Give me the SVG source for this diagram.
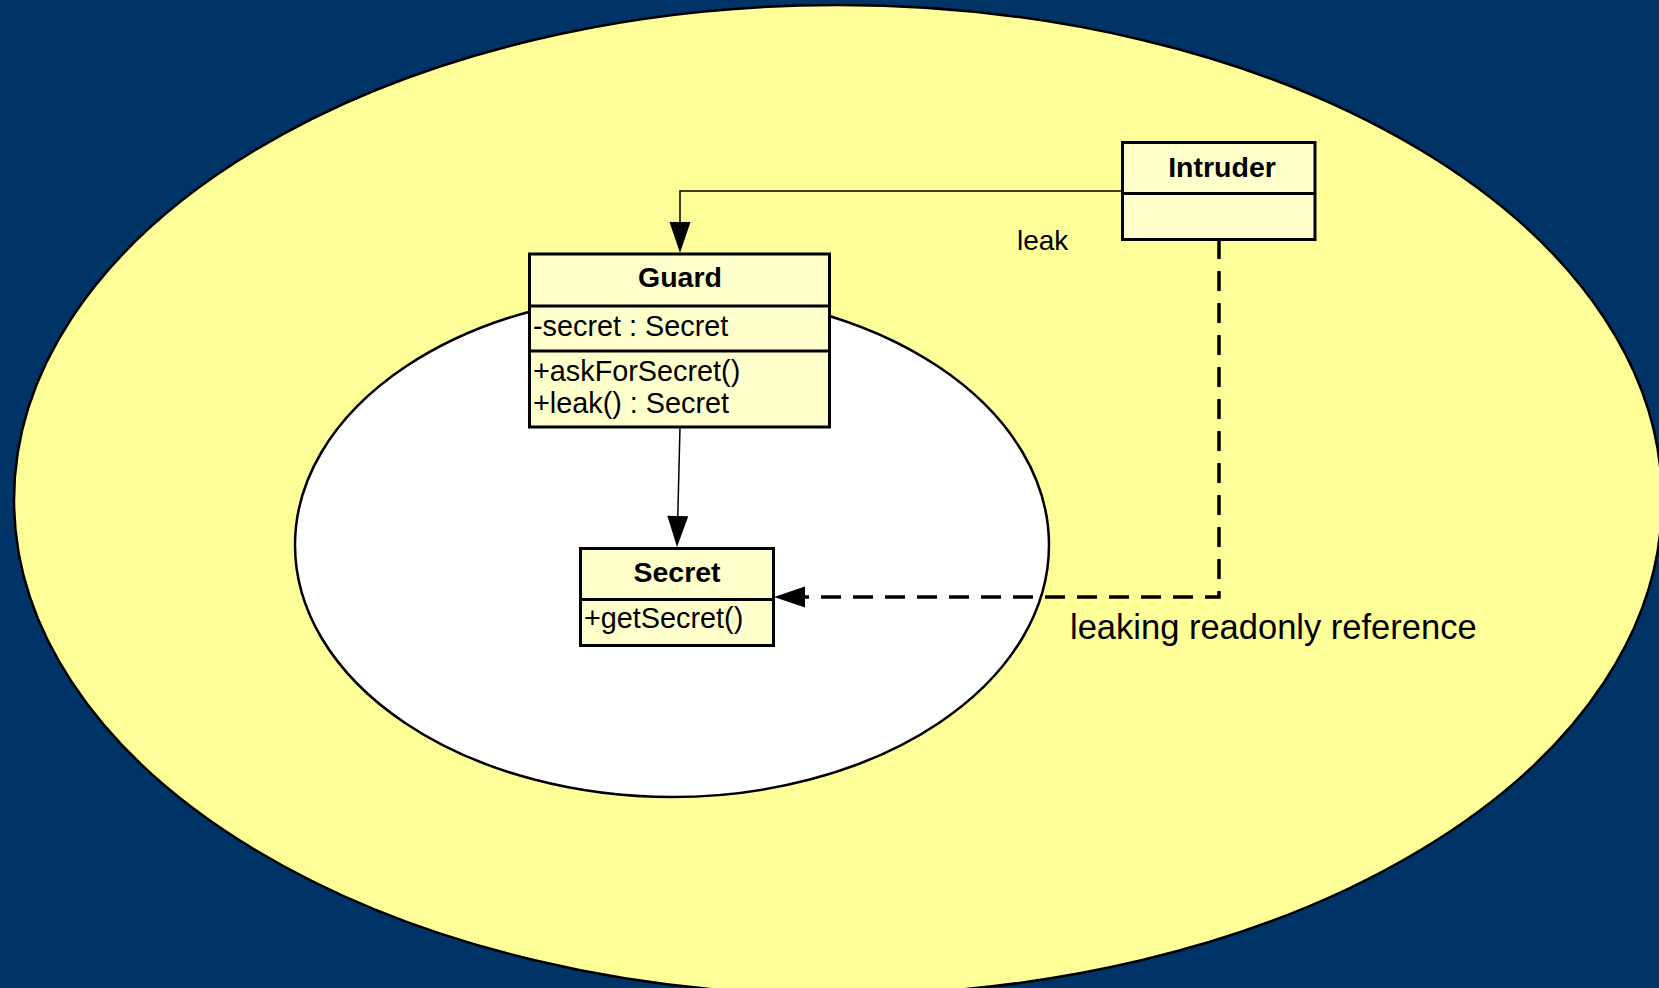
<svg xmlns="http://www.w3.org/2000/svg" width="1659" height="988" viewBox="0 0 1659 988">
  <style>
    .box { fill: #FFFFCC; stroke: #000; stroke-width: 3; }
    .div { stroke: #000; stroke-width: 3; }
    .title { font-family: "Liberation Sans", Arial, sans-serif; font-size: 28.5px; font-weight: bold; text-anchor: middle; fill: #000; }
    .member { font-family: "Liberation Sans", Arial, sans-serif; font-size: 28.8px; fill: #000; }
    .label { font-family: "Liberation Sans", Arial, sans-serif; fill: #000; }
    .assoc { fill: none; stroke: #000; stroke-width: 1.5; }
    .dep { fill: none; stroke: #000; stroke-width: 3.5; stroke-dasharray: 20 12; }
  </style>
  <defs>
    <marker id="arrow" markerUnits="userSpaceOnUse" markerWidth="31" markerHeight="22" refX="0" refY="10.5" orient="auto" overflow="visible">
      <path d="M0,0 L31,10.5 L0,21 Z" fill="#000"/>
    </marker>
  </defs>

  <!-- background -->
  <rect x="0" y="0" width="1659" height="988" fill="#003366"/>

  <!-- outer and inner regions -->
  <ellipse id="outer-region" cx="838" cy="500" rx="824" ry="495" fill="#FFFF99" stroke="#000" stroke-width="2.5"/>
  <ellipse id="inner-region" cx="672" cy="545" rx="377" ry="252" fill="#FFFFFF" stroke="#000" stroke-width="2.5"/>

  <!-- connectors -->
  <g id="connectors">
    <path class="assoc" d="M1122,191 H680 V222" marker-end="url(#arrow)"/>
    <path class="assoc" d="M680,427 L677.8,516" marker-end="url(#arrow)"/>
    <path class="dep" d="M1219,239 V597 H805" marker-end="url(#arrow)"/>
    <text class="label" x="1017" y="250" font-size="28">leak</text>
    <text class="label" x="1070" y="639" font-size="34.5">leaking readonly reference</text>
  </g>

  <!-- Guard class -->
  <g id="guard">
    <rect class="box" x="529.5" y="254" width="300" height="173"/>
    <line class="div" x1="529.5" y1="306" x2="829.5" y2="306"/>
    <line class="div" x1="529.5" y1="351" x2="829.5" y2="351"/>
    <text class="title" x="680" y="287">Guard</text>
    <text class="member" x="533" y="336">-secret : Secret</text>
    <text class="member" x="533" y="381">+askForSecret()</text>
    <text class="member" x="533" y="413">+leak() : Secret</text>
  </g>

  <!-- Secret class -->
  <g id="secret">
    <rect class="box" x="580.5" y="548.5" width="193" height="97"/>
    <line class="div" x1="580.5" y1="599.5" x2="773.5" y2="599.5"/>
    <text class="title" x="677" y="582">Secret</text>
    <text class="member" x="584" y="628">+getSecret()</text>
  </g>

  <!-- Intruder class -->
  <g id="intruder">
    <rect class="box" x="1122.5" y="142.5" width="192.5" height="97"/>
    <line class="div" x1="1122.5" y1="193.5" x2="1315" y2="193.5"/>
    <text class="title" x="1222" y="177">Intruder</text>
  </g>
</svg>
